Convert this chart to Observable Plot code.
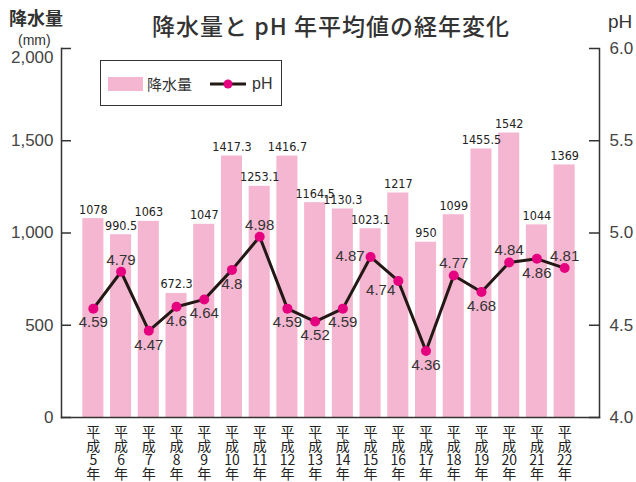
<!DOCTYPE html>
<html><head><meta charset="utf-8">
<script src="https://cdn.jsdelivr.net/npm/d3@7"></script>
<script src="https://cdn.jsdelivr.net/npm/@observablehq/plot@0.6"></script>
<style>
body{margin:0;background:#fff;font-family:"Noto Sans CJK JP",sans-serif;}
#wrap{position:relative;width:636px;height:482px;overflow:hidden;}
.abs{position:absolute;white-space:nowrap;color:#333;line-height:1;}
</style></head><body>
<div id="wrap">
  <div id="chart"></div>
  <div class="abs" style="left:152px;top:14px;font-size:23px;font-weight:500;letter-spacing:1px;">降水量と pH 年平均値の経年変化</div>
  <div class="abs" style="left:9px;top:8px;font-size:18px;font-weight:700;">降水量</div>
  <div class="abs" style="left:18px;top:33px;font-size:14px;font-family:'Liberation Sans',sans-serif;">(mm)</div>
  <div class="abs" style="left:608px;top:12px;font-size:19px;font-family:'Liberation Sans',sans-serif;">pH</div>
  <div class="abs" style="left:100px;top:60px;width:180px;height:44px;border:1.5px solid #333;background:#fff;">
    <div style="position:absolute;left:7px;top:16px;width:35px;height:14px;background:#f5b6d1;"></div>
    <div class="abs" style="left:46px;top:15px;font-size:15px;">降水量</div>
    <svg style="position:absolute;left:109px;top:15px;" width="40" height="16"><line x1="0" y1="8" x2="36" y2="8" stroke="#231815" stroke-width="3"/><circle cx="18" cy="8" r="4.5" fill="#e4007f"/></svg>
    <div class="abs" style="left:151px;top:15px;font-size:16px;font-family:'Liberation Sans',sans-serif;">pH</div>
  </div>
</div>
<script>
const years = ["5","6","7","8","9","10","11","12","13","14","15","16","17","18","19","20","21","22"];
const rainfall = [1078, 990.5, 1063, 672.3, 1047, 1417.3, 1253.1, 1416.7, 1164.5, 1130.3, 1023.1, 1217, 950, 1099, 1455.5, 1542, 1044, 1369];
const ph = [4.59, 4.79, 4.47, 4.6, 4.64, 4.8, 4.98, 4.59, 4.52, 4.59, 4.87, 4.74, 4.36, 4.77, 4.68, 4.84, 4.86, 4.81];
const rainTicks = [0, 500, 1000, 1500, 2000];
const phTicks = [4.0, 4.5, 5.0, 5.5, 6.0];

// label placement for pH values (presentation only)
const phSide = ["below","above","below","below","below","below","above","below","below","below","left","lowerleft","below","above","below","above","below","above"];

const phToY = p => (p - 4) * 1000; // pH 4.0–6.0 mapped onto 0–2000 of the left scale
const data = years.map((y, i) => ({year: y, rain: rainfall[i], ph: ph[i], phy: phToY(ph[i]), side: phSide[i]}));

const W = 636, H = 482, mL = 61, mR = 37, mT = 48, mB = 65;
const innerW = W - mL - mR;
const numFont = "'Liberation Sans', Arial, sans-serif";
const narrowFont = "'Liberation Sans Narrow', 'Arial Narrow', 'DejaVu Sans Condensed', sans-serif";

const chart = Plot.plot({
  width: W, height: H,
  marginLeft: mL, marginRight: mR, marginTop: mT, marginBottom: mB,
  x: {domain: years, range: [79, 578], paddingInner: 0.24, paddingOuter: 0.12, round: false, label: null},
  y: {domain: [0, 2000], label: null},
  style: {background: "transparent", overflow: "visible"},
  marks: [
    Plot.barY(data, {x: "year", y: "rain", fill: "#f5b6d1"}),
    Plot.text(data, {x: "year", y: "rain", text: d => String(d.rain), dy: -9, fontSize: 12.5, fontFamily: narrowFont, fill: "#222"}),
    Plot.line(data, {x: "year", y: "phy", stroke: "#231815", strokeWidth: 3}),
    Plot.dot(data, {x: "year", y: "phy", r: 5, fill: "#e4007f"}),
    Plot.text(data.filter(d => d.side === "below"), {x: "year", y: "phy", text: d => String(d.ph), dy: 14, fontSize: 15, fontFamily: numFont, fill: "#333"}),
    Plot.text(data.filter(d => d.side === "above"), {x: "year", y: "phy", text: d => String(d.ph), dy: -12, fontSize: 15, fontFamily: numFont, fill: "#333"}),
    Plot.text(data.filter(d => d.side === "left"), {x: "year", y: "phy", text: d => String(d.ph), dx: -6, dy: -1, textAnchor: "end", fontSize: 15, fontFamily: numFont, fill: "#333"}),
    Plot.text(data.filter(d => d.side === "lowerleft"), {x: "year", y: "phy", text: d => String(d.ph), dx: -3, dy: 9, textAnchor: "end", fontSize: 15, fontFamily: numFont, fill: "#333"}),
    Plot.axisY(rainTicks.filter(t => t < 2000), {anchor: "left", tickSize: 0, tickPadding: 8, tickFormat: d => d3.format(",")(d), fontSize: 17, fontFamily: numFont, fill: "#444", label: null}),
    Plot.axisY(rainTicks.filter(t => t === 2000), {anchor: "left", tickSize: 0, tickPadding: 8, dy: 9, tickFormat: d => d3.format(",")(d), fontSize: 17, fontFamily: numFont, fill: "#444", label: null}),
    Plot.axisY(phTicks.map(phToY), {anchor: "right", tickSize: 0, tickPadding: 10, tickFormat: d => (4 + d / 1000).toFixed(1), fontSize: 17, fontFamily: numFont, fill: "#444", label: null}),
    Plot.axisX({anchor: "bottom", tickSize: 0, tickPadding: 9, tickFormat: d => `平\n成\n${d}\n年`, lineHeight: 1.02, fontSize: 14, fill: "#222", fontFamily: "'Noto Sans CJK JP', sans-serif", label: null}),
    Plot.ruleY(rainTicks, {insetRight: innerW - 10, stroke: "#333", strokeWidth: 1.5}),
    Plot.ruleY(rainTicks, {insetLeft: innerW - 10, stroke: "#333", strokeWidth: 1.5}),
    Plot.frame({anchor: "left", stroke: "#333", strokeWidth: 1.5}),
    Plot.frame({anchor: "right", stroke: "#333", strokeWidth: 1.5}),
    Plot.frame({anchor: "bottom", stroke: "#333", strokeWidth: 1.5})
  ]
});
document.getElementById("chart").appendChild(chart);
</script>
</body></html>
